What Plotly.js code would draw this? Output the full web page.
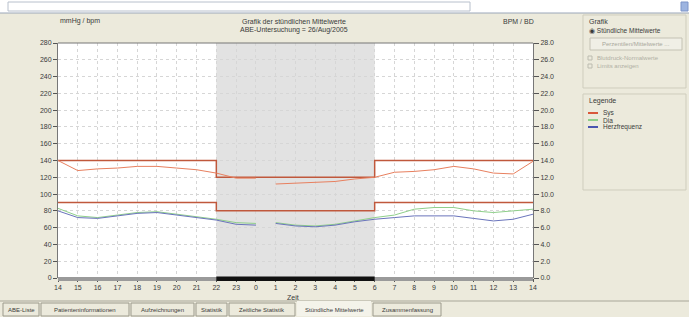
<!DOCTYPE html>
<html>
<head>
<meta charset="utf-8">
<script src="https://cdn.plot.ly/plotly-3.0.1.min.js"></script>
<style>
html,body{margin:0;padding:0;background:#eceadc;}
#chart{width:689px;height:317px;}
</style>
</head>
<body>
<div id="chart"></div>
<script>
// ---- data ----
const hours   = [14,15,16,17,18,19,20,21,22,23,24,24.5,25,26,27,28,29,30,31,32,33,34,35,36,37,38];
const sysMean = [140,128,130,131,133,133,131,129,125,119,119,null,112,113,114,115,118,120,126,127,129,133,130,125,124,139];
const diaMean = [83,74,72,75,78,79,76,73,70,66,65,null,66,63,62,64,68,72,75,82,84,84,80,78,80,82];
const hrMean  = [80,72,71,74,77,78,75,72,69,64,63,null,65,62,61,63,67,70,72,74,74,74,71,68,70,76];
const limitHours = [14,22,30,38];
const sysLimit = [140,120,140,140];
const diaLimit = [90,80,90,90];
const nightStart = 22, nightEnd = 30;
const xTickVals = [14,15,16,17,18,19,20,21,22,23,24,25,26,27,28,29,30,31,32,33,34,35,36,37,38];
const xTickText = ["14","15","16","17","18","19","20","21","22","23","0","1","2","3","4","5","6","7","8","9","10","11","12","13","14"];
const yTickVals = [0,20,40,60,80,100,120,140,160,180,200,220,240,260,280];
const yTickTextR = ["0.0","2.0","4.0","6.0","8.0","10.0","12.0","14.0","16.0","18.0","20.0","22.0","24.0","26.0","28.0"];
const tabs = ["ABE-Liste","Patienteninformationen","Aufzeichnungen","Statistik","Zeitliche Statistik","Stündliche Mittelwerte","Zusammenfassung"];
const tabEdges = [3,41,131,196,229,297,373,443];
const legendNames = ["Sys","Dia","Herzfrequenz"];
const legendColors = ["#d9573a","#8fcf8a","#4a55b0"];

// ---- helpers (pixel -> paper) ----
const L=58, R=533, T=43, B=278;
const px = x => (x-L)/(R-L);
const py = y => (B-y)/(B-T);
const TXT = "#3a3a3a";
const FONT = "Liberation Sans, Arial, sans-serif";

function note(text, x, y, opts){
  opts = opts || {};
  return {text:text, x:px(x), y:py(y), xref:'paper', yref:'paper', showarrow:false,
    xanchor:opts.xanchor || 'center', yanchor:'middle',
    font:{size:opts.size || 7, color:opts.color || TXT, family:FONT}};
}

const traces = [
  {x:limitHours, y:sysLimit, mode:'lines', line:{shape:'hv', color:'#c0583c', width:1.5}, hoverinfo:'skip'},
  {x:limitHours, y:diaLimit, mode:'lines', line:{shape:'hv', color:'#c0583c', width:1.5}, hoverinfo:'skip'},
  {x:hours, y:sysMean, mode:'lines', name:legendNames[0], line:{color:'#e8805f', width:1}, connectgaps:false},
  {x:hours, y:diaMean, mode:'lines', name:legendNames[1], line:{color:legendColors[1], width:1}, connectgaps:false},
  {x:hours, y:hrMean,  mode:'lines', name:legendNames[2], line:{color:'#6a74bb', width:1}, connectgaps:false},
  {x:[14], y:[0], yaxis:'y2', mode:'markers', marker:{opacity:0}, hoverinfo:'skip'}
];

const shapes = [
  {type:'rect', xref:'x', yref:'paper', x0:nightStart, x1:nightEnd, y0:0, y1:1, fillcolor:'#e2e2e2', line:{width:0}, layer:'below'},
  {type:'rect', xref:'x', yref:'paper', x0:14, x1:38, y0:py(281), y1:py(277), fillcolor:'#9a9a9a', line:{width:0}},
  {type:'rect', xref:'x', yref:'paper', x0:nightStart, x1:nightEnd, y0:py(281), y1:py(276.5), fillcolor:'#111', line:{width:0}},
  {type:'rect', xref:'paper', yref:'paper', x0:px(0), x1:px(689), y0:py(13), y1:py(0), fillcolor:'#ffffff', line:{width:0}},
  {type:'line', xref:'paper', yref:'paper', x0:px(0), x1:px(689), y0:py(13), y1:py(13), line:{color:'#9aa6b8', width:1}},
  {type:'rect', xref:'paper', yref:'paper', x0:px(8), x1:px(470), y0:py(11), y1:py(2), fillcolor:'rgba(0,0,0,0)', line:{color:'#b8c0cc', width:1}},
  {type:'rect', xref:'paper', yref:'paper', x0:px(681), x1:px(688), y0:py(11), y1:py(2), fillcolor:'#9db4e0', line:{color:'#7d94c8', width:1}},
  {type:'rect', xref:'paper', yref:'paper', x0:px(583), x1:px(686), y0:py(88), y1:py(15), fillcolor:'rgba(0,0,0,0)', line:{color:'#cfcdbd', width:1}},
  {type:'rect', xref:'paper', yref:'paper', x0:px(590), x1:px(682), y0:py(50), y1:py(38), fillcolor:'#f0efe6', line:{color:'#c4c2b4', width:1}},
  {type:'rect', xref:'paper', yref:'paper', x0:px(588), x1:px(592), y0:py(60), y1:py(56), fillcolor:'rgba(0,0,0,0)', line:{color:'#bcbcb0', width:1}},
  {type:'rect', xref:'paper', yref:'paper', x0:px(588), x1:px(592), y0:py(68), y1:py(64), fillcolor:'rgba(0,0,0,0)', line:{color:'#bcbcb0', width:1}},
  {type:'rect', xref:'paper', yref:'paper', x0:px(583), x1:px(686), y0:py(190), y1:py(94), fillcolor:'rgba(0,0,0,0)', line:{color:'#cfcdbd', width:1}},
  {type:'line', xref:'paper', yref:'paper', x0:px(0), x1:px(689), y0:py(301), y1:py(301), line:{color:'#a8a698', width:1}},
  {type:'line', xref:'paper', yref:'paper', x0:0, x1:1, y0:1, y1:1, line:{color:'#777', width:1}}
];

const annotations = [
  note('mmHg / bpm', 80, 21),
  note('Grafik der stündlichen Mittelwerte', 294, 21),
  note('ABE-Untersuchung = 26/Aug/2005', 294, 30),
  note('BPM / BD', 518, 21),
  note('Zeit', 293, 297),
  note('Grafik', 587, 21, {xanchor:'left'}),
  note('◉ Stündliche Mittelwerte', 587, 31, {xanchor:'left', size:6.5}),
  note('Perzentilen/Mittelwerte ...', 636, 44, {size:6, color:'#a8a89c'}),
  note('Blutdruck-Normalwerte', 595, 58, {xanchor:'left', size:6, color:'#b0b0a4'}),
  note('Limits anzeigen', 595, 66, {xanchor:'left', size:6, color:'#b0b0a4'}),
  note('Legende', 587, 101, {xanchor:'left'})
];

legendNames.forEach((n,i)=>{
  const yy = 113 + i*7;
  shapes.push({type:'line', xref:'paper', yref:'paper', x0:px(588), x1:px(598), y0:py(yy), y1:py(yy), line:{color:legendColors[i], width:2}});
  annotations.push(note(n, 601, yy, {xanchor:'left', size:6.5}));
});

tabs.forEach((t,i)=>{
  const x0 = tabEdges[i], x1 = tabEdges[i+1]-2;
  const sel = (t === "Stündliche Mittelwerte");
  shapes.push({type:'rect', xref:'paper', yref:'paper', x0:px(x0), x1:px(x1), y0:py(316), y1:py(sel?301:303), fillcolor: sel ? '#f4f3ea' : '#eceadc', line:{color: sel ? 'rgba(0,0,0,0)' : '#9c9a8c', width:1}});
  annotations.push(note(t, (x0+x1)/2, 310, {size:6}));
});

const layout = {
  width:689, height:317,
  margin:{l:L, r:689-R, t:T, b:317-B, pad:0},
  paper_bgcolor:'#eceadc',
  plot_bgcolor:'#ffffff',
  showlegend:false,
  font:{family:FONT, size:7, color:TXT},
  xaxis:{
    range:[14,38], tickvals:xTickVals, ticktext:xTickText,
    ticks:'outside', ticklen:3, tickcolor:'#555', tickfont:{size:7, color:TXT},
    showgrid:true, gridcolor:'#d6d6d6', griddash:'dot', gridwidth:1,
    zeroline:false, showline:false, fixedrange:true
  },
  yaxis:{
    range:[0,280], tickvals:yTickVals,
    ticks:'outside', ticklen:4, tickcolor:'#555', tickfont:{size:7, color:TXT},
    showgrid:true, gridcolor:'#d6d6d6', griddash:'dot', gridwidth:1,
    zeroline:false, showline:true, linecolor:'#777', linewidth:1
  },
  yaxis2:{
    range:[0,280], overlaying:'y', side:'right', tickvals:yTickVals, ticktext:yTickTextR,
    ticks:'outside', ticklen:5, tickcolor:'#555', tickfont:{size:7, color:TXT},
    showgrid:false, zeroline:false, showline:true, linecolor:'#777', linewidth:1
  },
  shapes:shapes,
  annotations:annotations
};

Plotly.newPlot('chart', traces, layout, {displayModeBar:false, staticPlot:true});
</script>
</body>
</html>
